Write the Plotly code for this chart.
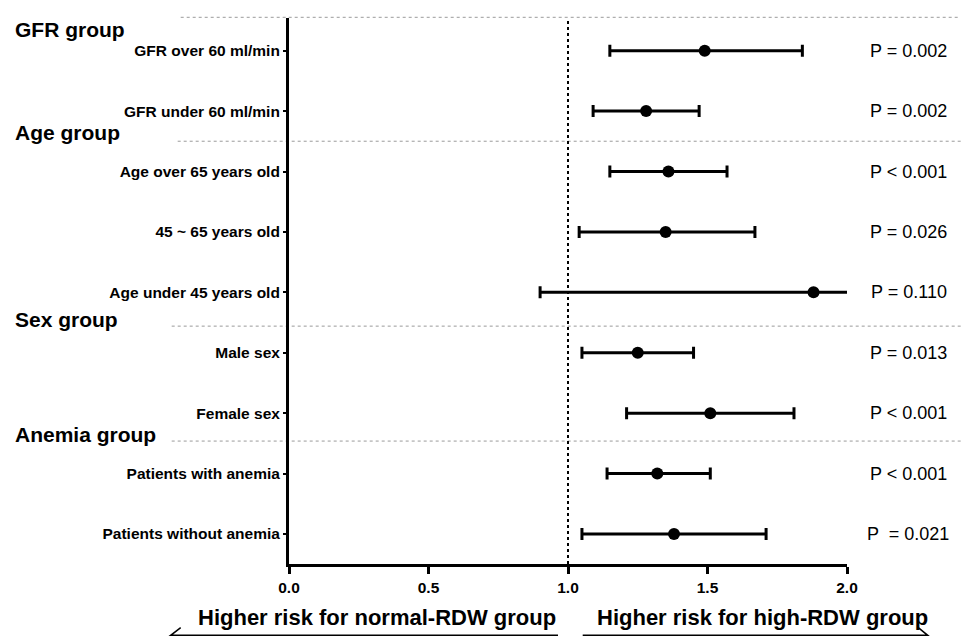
import plotly.graph_objects as go

labels = ["GFR over 60 ml/min", "GFR under 60 ml/min", "Age over 65 years old",
          "45 ~ 65 years old", "Age under 45 years old", "Male sex", "Female sex",
          "Patients with anemia", "Patients without anemia"]
hr = [1.49, 1.28, 1.36, 1.35, 1.88, 1.25, 1.51, 1.32, 1.38]
ci_low = [1.15, 1.09, 1.15, 1.04, 0.90, 1.05, 1.21, 1.14, 1.05]
ci_high = [1.84, 1.47, 1.57, 1.67, 2.05, 1.45, 1.81, 1.51, 1.71]
p_text = ["P = 0.002", "P = 0.002", "P < 0.001", "P = 0.026", "P = 0.110",
          "P = 0.013", "P < 0.001", "P < 0.001", "P  = 0.021"]
group_labels = ["GFR group", "Age group", "Sex group", "Anemia group"]
x_ticks = [0.0, 0.5, 1.0, 1.5, 2.0]
x_ticktext = ["0.0", "0.5", "1.0", "1.5", "2.0"]
left_label = "Higher risk for normal-RDW group"
right_label = "Higher risk for high-RDW group"

ypos = list(range(len(labels)))
FONT = "Liberation Sans, Arial, sans-serif"

fig = go.Figure()
fig.add_trace(go.Scatter(
    x=hr, y=ypos, mode="markers",
    marker=dict(color="black", size=12),
    error_x=dict(type="data", symmetric=False,
                 array=[h - m for h, m in zip(ci_high, hr)],
                 arrayminus=[m - l for m, l in zip(hr, ci_low)],
                 color="black", thickness=3, width=6),
    showlegend=False, hoverinfo="skip"))

W, H = 961, 637
L, R, T, B = 289.3, 961 - 847.3, 18, 637 - 564.3
pw, ph = W - L - R, H - T - B

def px(p):
    return (p - L) / pw

def py(p):
    return (H - B - p) / ph

shapes = []
# separators (top, age, sex, anemia)
for y_pix, x_start in [(17.3, 181), (141.3, 178), (326.3, 172), (441.3, 172)]:
    shapes.append(dict(type="line", xref="paper", yref="paper",
                       x0=px(x_start), x1=px(961), y0=py(y_pix), y1=py(y_pix),
                       line=dict(color="#9a9a9a", width=1, dash="dot"), layer="below"))
# reference line at 1.0
shapes.append(dict(type="line", xref="x", yref="paper", x0=1, x1=1, y0=0, y1=1,
                   line=dict(color="black", width=2, dash="dot"), layer="below"))
# arrows
ya = py(635.7)
shapes.append(dict(type="path", xref="paper", yref="paper",
                   path=f"M {px(558.3)} {ya} L {px(171)} {ya} L {px(181)} {py(628)}",
                   line=dict(color="black", width=1.5)))
shapes.append(dict(type="path", xref="paper", yref="paper",
                   path=f"M {px(583)} {ya} L {px(928)} {ya} L {px(918)} {py(627.5)}",
                   line=dict(color="black", width=1.5)))

annotations = []
for i, t in enumerate(p_text):
    annotations.append(dict(text=t, xref="paper", yref="y",
                            x=px(951 if i == len(p_text) - 1 else 949), y=ypos[i],
                            xanchor="right", yanchor="middle", showarrow=False,
                            font=dict(family=FONT, size=18, color="black")))
for g, yc in zip(group_labels, [29.7, 133, 319.7, 434.5]):
    annotations.append(dict(text=f"<b>{g}</b>", xref="paper", yref="paper",
                            x=px(13), y=py(yc), xanchor="left", yanchor="middle",
                            showarrow=False,
                            font=dict(family=FONT, size=21, color="black")))
annotations.append(dict(text=f"<b>{left_label}</b>", xref="paper", yref="paper",
                        x=px(558.3), y=py(618), xanchor="right", yanchor="middle",
                        showarrow=False, font=dict(family=FONT, size=22, color="black")))
annotations.append(dict(text=f"<b>{right_label}</b>", xref="paper", yref="paper",
                        x=px(595.7), y=py(618), xanchor="left", yanchor="middle",
                        showarrow=False, font=dict(family=FONT, size=22, color="black")))

y_top = (18 - 50.7) / 60.45
y_bot = (564.3 - 50.7) / 60.45

fig.update_layout(
    width=W, height=H,
    margin=dict(l=L, r=R, t=T, b=B, pad=0),
    plot_bgcolor="white", paper_bgcolor="white",
    shapes=shapes, annotations=annotations,
    xaxis=dict(range=[0, 2], tickvals=x_ticks, ticktext=[f"<b>{t}</b>" for t in x_ticktext],
               showline=True, linewidth=3, linecolor="black", showgrid=False, zeroline=False,
               ticks="outside", ticklen=7, tickwidth=3, tickcolor="black",
               tickfont=dict(family=FONT, size=15.5, color="black"), fixedrange=True),
    yaxis=dict(range=[y_bot, y_top], tickvals=ypos, ticktext=[f"<b>{l}</b>" for l in labels],
               showline=True, linewidth=3, linecolor="black", showgrid=False, zeroline=False,
               ticks="outside", ticklen=3, tickwidth=2, tickcolor="black",
               tickfont=dict(family=FONT, size=15.5, color="black"), fixedrange=True),
)

fig.write_html("out.html", config={"displayModeBar": False},
               post_script="document.body.style.margin='0';document.body.style.overflow='hidden';")
